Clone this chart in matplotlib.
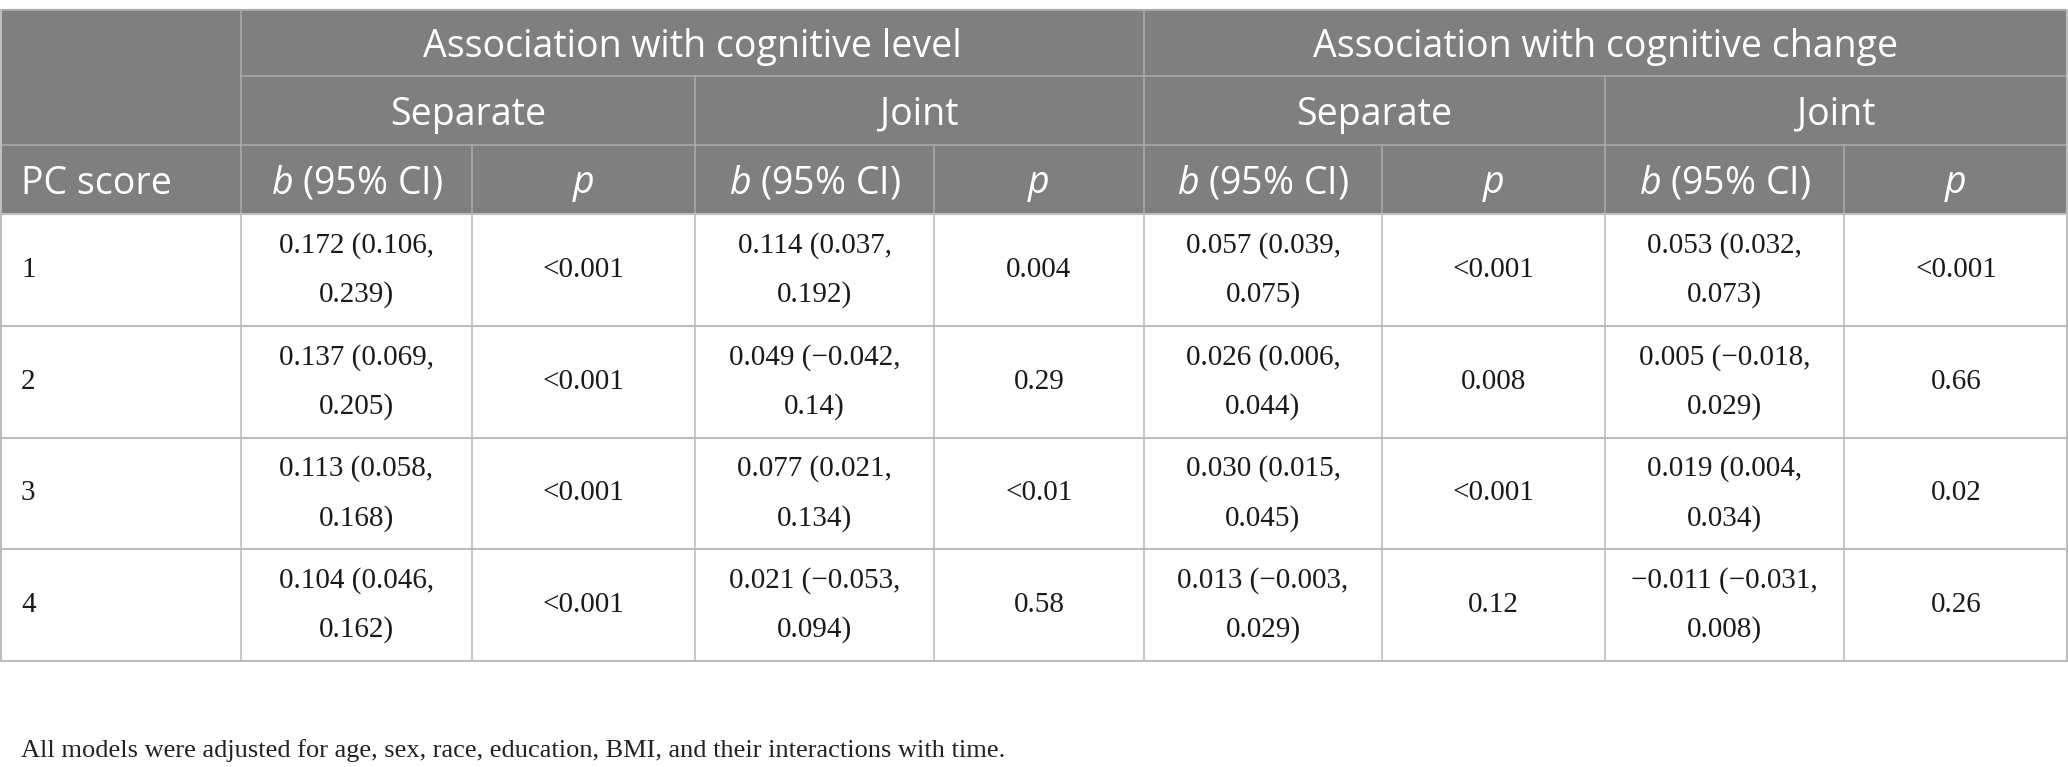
import matplotlib.pyplot as plt
from matplotlib.patches import Rectangle

# table content
group_titles = ['Association with cognitive level', 'Association with cognitive change']
model_titles = ['Separate', 'Joint', 'Separate', 'Joint']
pc_scores = ['1', '2', '3', '4']

sep_level_b = ['0.172 (0.106,\n0.239)', '0.137 (0.069,\n0.205)', '0.113 (0.058,\n0.168)', '0.104 (0.046,\n0.162)']
sep_level_p = ['<0.001', '<0.001', '<0.001', '<0.001']
joint_level_b = ['0.114 (0.037,\n0.192)', '0.049 (\u22120.042,\n0.14)', '0.077 (0.021,\n0.134)', '0.021 (\u22120.053,\n0.094)']
joint_level_p = ['0.004', '0.29', '<0.01', '0.58']
sep_change_b = ['0.057 (0.039,\n0.075)', '0.026 (0.006,\n0.044)', '0.030 (0.015,\n0.045)', '0.013 (\u22120.003,\n0.029)']
sep_change_p = ['<0.001', '0.008', '<0.001', '0.12']
joint_change_b = ['0.053 (0.032,\n0.073)', '0.005 (\u22120.018,\n0.029)', '0.019 (0.004,\n0.034)', '\u22120.011 (\u22120.031,\n0.008)']
joint_change_p = ['<0.001', '0.66', '0.02', '0.26']

footnote = 'All models were adjusted for age, sex, race, education, BMI, and their interactions with time.'

# layout in pixels
W, H = 2068, 767
col_x = [0, 241, 472, 695, 934, 1144, 1382, 1605, 1844, 2068]
row_y = [10, 76, 145, 214, 326, 438, 549, 661]

plt.rcParams['mathtext.fontset'] = 'custom'
plt.rcParams['mathtext.it'] = 'Open Sans:italic'
plt.rcParams['mathtext.rm'] = 'Open Sans'

fig = plt.figure(figsize=(W / 100, H / 100), dpi=100)
ax = fig.add_axes([0, 0, 1, 1])
ax.set_xlim(0, W)
ax.set_ylim(H, 0)
ax.axis('off')

head_bg = '#7f7f7f'
head_line = '#a9a9a9'
body_line = '#bdbdbd'
sans = 'Open Sans'
serif = 'Liberation Serif'

# header background
ax.add_patch(Rectangle((0, row_y[0]), W, row_y[3] - row_y[0], color=head_bg, lw=0))

# header texts
hs = 27
dy = 4  # nudge header text down a little
for i, t in enumerate(group_titles):
    x0, x1 = col_x[1 + 4 * i], col_x[5 + 4 * i]
    ax.text((x0 + x1) / 2, (row_y[0] + row_y[1]) / 2 + dy, t, color='white', fontsize=hs,
            family=sans, ha='center', va='center')
for i, t in enumerate(model_titles):
    x0, x1 = col_x[1 + 2 * i], col_x[3 + 2 * i]
    ax.text((x0 + x1) / 2, (row_y[1] + row_y[2]) / 2 + dy, t, color='white', fontsize=hs,
            family=sans, ha='center', va='center')
ym = (row_y[2] + row_y[3]) / 2 + dy
ax.text(21, ym, 'PC score', color='white', fontsize=hs, family=sans, ha='left', va='center')
for k in range(4):
    xb = (col_x[1 + 2 * k] + col_x[2 + 2 * k]) / 2
    xp = (col_x[2 + 2 * k] + col_x[3 + 2 * k]) / 2
    ax.text(xb, ym, '$b$ (95% CI)', color='white', fontsize=hs, family=sans, ha='center', va='center')
    ax.text(xp, ym, 'p', color='white', fontsize=hs, family=sans, style='italic', ha='center', va='center')

# header grid lines
ax.plot([0, W], [row_y[0], row_y[0]], color=head_line, lw=1.5)
ax.plot([col_x[1], W], [row_y[1], row_y[1]], color=head_line, lw=1.2)
ax.plot([0, W], [row_y[2], row_y[2]], color=head_line, lw=1.2)
ax.plot([col_x[1], col_x[1]], [row_y[0], row_y[3]], color=head_line, lw=1.2)
ax.plot([col_x[5], col_x[5]], [row_y[0], row_y[3]], color=head_line, lw=1.2)
for c in (3, 7):
    ax.plot([col_x[c], col_x[c]], [row_y[1], row_y[3]], color=head_line, lw=1.2)
for c in (2, 4, 6, 8):
    ax.plot([col_x[c], col_x[c]], [row_y[2], row_y[3]], color=head_line, lw=1.2)

# body
columns = [sep_level_b, sep_level_p, joint_level_b, joint_level_p,
           sep_change_b, sep_change_p, joint_change_b, joint_change_p]
bs = 21
for r in range(4):
    y0, y1 = row_y[3 + r], row_y[4 + r]
    yc = (y0 + y1) / 2
    ax.text(21, yc, pc_scores[r], fontsize=bs, family=serif, color='#1a1a1a', ha='left', va='center')
    for c, col in enumerate(columns):
        xc = (col_x[1 + c] + col_x[2 + c]) / 2
        ax.text(xc, yc, col[r], fontsize=bs, family=serif, color='#1a1a1a',
                ha='center', va='center', linespacing=2.1)

for y in row_y[3:]:
    ax.plot([0, W], [y, y], color=body_line, lw=1.5)
for x in col_x[1:-1]:
    ax.plot([x, x], [row_y[3], row_y[-1]], color=body_line, lw=1.2)
ax.plot([1, 1], [row_y[0], row_y[-1]], color=body_line, lw=1.5)
ax.plot([W - 1, W - 1], [row_y[0], row_y[-1]], color=body_line, lw=1.5)

ax.text(21, 751, footnote, fontsize=19, family=serif, color='#222222', ha='left', va='center')

fig.savefig('out.png', dpi=100)
